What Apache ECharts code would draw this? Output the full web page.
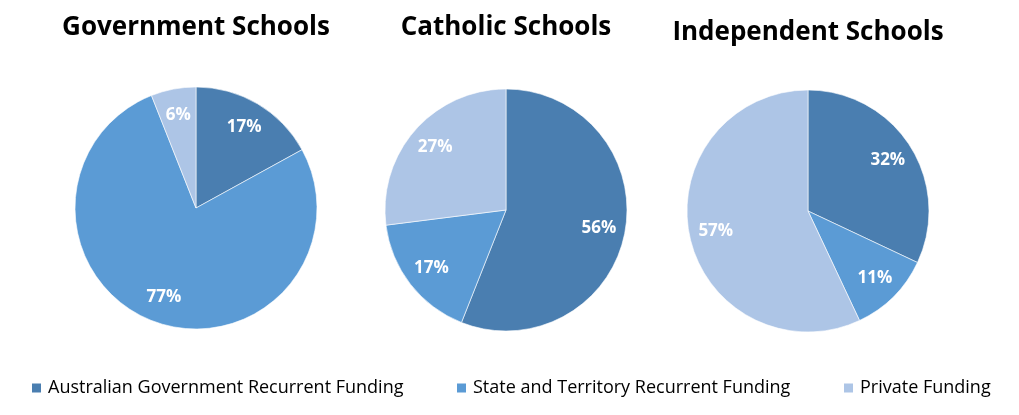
<!DOCTYPE html>
<html lang="en">
<head>
    <meta charset="UTF-8">
    <title>School Funding</title>
    <script src="https://cdn.jsdelivr.net/npm/echarts@6/dist/echarts.min.js"></script>
    <style>
        html, body { margin: 0; padding: 0; background: #fff; }
        #chart { width: 1019px; height: 415px; }
    </style>
</head>
<body>
<div id="chart"></div>
<script>
    // Data
    var fundingTypes = ['Australian Government Recurrent Funding', 'State and Territory Recurrent Funding', 'Private Funding'];
    var sectors = ['Government Schools', 'Catholic Schools', 'Independent Schools'];
    var governmentShare = [17, 77, 6];
    var catholicShare = [56, 17, 27];
    var independentShare = [32, 11, 57];

    var colors = ['#4a7eb0', '#5b9bd5', '#adc5e6'];
    var sectorValues = [governmentShare, catholicShare, independentShare];

    // layout of the three pies
    var centers = [[196, 208], [506, 210], [808, 211]];
    var titleTops = [15, 15, 20];
    var legendLefts = [30, 455, 842];
    var radius = 121;

    var chart = echarts.init(document.getElementById('chart'));

    var titles = [];
    var series = [];
    sectors.forEach(function (name, i) {
        titles.push({
            text: name,
            left: centers[i][0],
            top: titleTops[i],
            padding: 0,
            textAlign: 'center',
            textStyle: { fontFamily: 'Open Sans', fontSize: 26, fontWeight: 'bold', color: '#000' }
        });
        var data = fundingTypes.map(function (f, j) {
            return { name: f, value: sectorValues[i][j] };
        });
        // visible pie
        series.push({
            type: 'pie',
            center: centers[i],
            radius: [0, radius],
            startAngle: 90,
            clockwise: true,
            animation: false,
            silent: true,
            label: { show: false },
            labelLine: { show: false },
            itemStyle: { borderColor: '#fff', borderWidth: 0.6 },
            data: data
        });
        // transparent ring on top, only to carry the labels further out
        series.push({
            type: 'pie',
            center: centers[i],
            radius: [62, radius],
            startAngle: 90,
            clockwise: true,
            animation: false,
            silent: true,
            legendHoverLink: false,
            itemStyle: { color: 'rgba(0,0,0,0)' },
            label: {
                show: true,
                position: 'inside',
                formatter: '{c}%',
                color: '#fff',
                fontFamily: 'Open Sans',
                fontWeight: 'bold',
                fontSize: 17
            },
            data: data
        });
    });

    var legends = fundingTypes.map(function (f, j) {
        return {
            data: [f],
            top: 379,
            left: legendLefts[j],
            padding: 0,
            itemWidth: 11,
            itemHeight: 11,
            itemGap: 0,
            icon: 'rect',
            selectedMode: false,
            textStyle: { fontFamily: 'Open Sans', fontSize: 18, color: '#000', padding: [0, 0, 0, 1] }
        };
    });

    var option = {
        color: colors,
        title: titles,
        legend: legends,
        series: series
    };

    chart.setOption(option);
</script>
</body>
</html>
